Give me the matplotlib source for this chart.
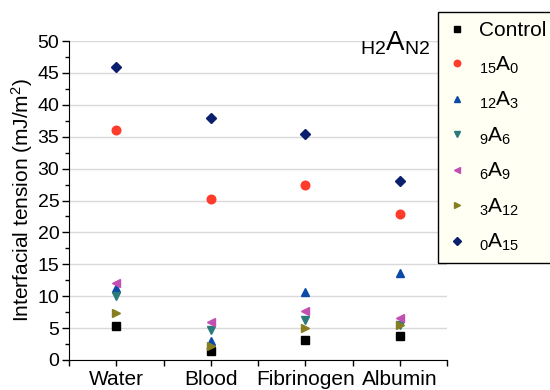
import matplotlib
matplotlib.use("Agg")
import matplotlib.pyplot as plt
from matplotlib.ticker import MultipleLocator

plt.rcParams['font.family'] = ['Liberation Sans', 'DejaVu Sans']
plt.rcParams['mathtext.fontset'] = 'custom'
plt.rcParams['mathtext.rm'] = 'Liberation Sans'
plt.rcParams['mathtext.it'] = 'Liberation Sans'

# categories and measured interfacial tension values (mJ/m^2)
media = ["Water", "Blood", "Fibrinogen", "Albumin"]
control = [5.3, 1.4, 3.1, 3.7]
a15_0 = [36.0, 25.2, 27.4, 22.9]
a12_3 = [11.3, 3.0, 10.7, 13.7]
a9_6 = [10.1, 4.7, 6.3, 5.5]
a6_9 = [12.1, 6.0, 7.7, 6.6]
a3_12 = [7.4, 2.2, 5.0, 5.5]
a0_15 = [46.0, 37.9, 35.4, 28.1]

series = [
    ("Control", control, "s", "#000000"),
    (r"$_{15}A_{0}$", a15_0, "o", "#ff3b2b"),
    (r"$_{12}A_{3}$", a12_3, "^", "#0b4aa6"),
    (r"$_{9}A_{6}$", a9_6, "v", "#2b7b7a"),
    (r"$_{6}A_{9}$", a6_9, "<", "#c250b2"),
    (r"$_{3}A_{12}$", a3_12, ">", "#877f1f"),
    (r"$_{0}A_{15}$", a0_15, "D", "#0a1f6e"),
]

fig = plt.figure(figsize=(5.5, 3.9), dpi=100)
ax = fig.add_axes([69 / 550, 1 - 360 / 390, 378 / 550, 319 / 390])

x = list(range(len(media)))
for label, vals, marker, color in series:
    ms = 5 if marker == "D" else 6.2
    ax.plot(x, vals, linestyle="none", marker=marker, color=color,
            markersize=ms, label=label, zorder=3)

ax.set_xlim(-0.5, 3.5)
ax.set_ylim(0, 50)
ax.set_xticks(x)
ax.set_xticklabels(media, fontsize=15)
ax.xaxis.set_minor_locator(MultipleLocator(0.5))
ax.yaxis.set_major_locator(MultipleLocator(5))
ax.yaxis.set_minor_locator(MultipleLocator(2.5))
ax.tick_params(axis="y", labelsize=14, length=5, width=1, pad=2)
ax.tick_params(axis="y", which="minor", length=3, width=1)
ax.tick_params(axis="x", which="both", length=4, width=1, pad=3)
ax.grid(axis="y", color="#d9d9d9", linewidth=1, zorder=0)
ax.set_axisbelow(True)
for side in ["top", "right"]:
    ax.spines[side].set_visible(False)
ax.set_ylabel("Interfacial tension (mJ/m$^2$)", fontsize=15, labelpad=2)

fig.text(0.718, 0.888, r"$_{H2}A_{N2}$", fontsize=20, ha="center", va="center")

leg = fig.legend(loc="upper left", bbox_to_anchor=(438 / 550, 1 - 12 / 390),
                 bbox_transform=fig.transFigure, borderaxespad=0,
                 fontsize=15, frameon=True, fancybox=False,
                 handlelength=0.9, handletextpad=0.6, labelspacing=0.68,
                 markerscale=0.75, borderpad=0.45)
leg.get_frame().set_edgecolor("black")
leg.get_frame().set_linewidth(1)
leg.get_frame().set_facecolor("#fffff4")
leg.get_frame().set_alpha(1)

fig.savefig("out.png", dpi=100)
